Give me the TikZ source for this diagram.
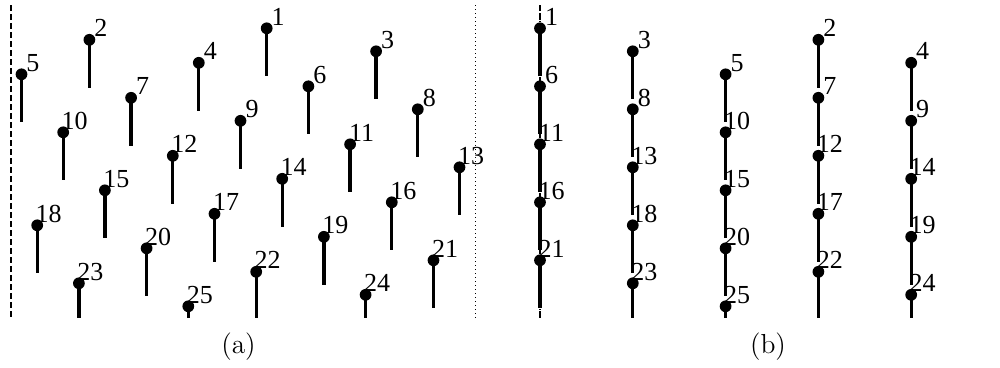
\documentclass[tikz,border=0pt]{standalone}
\usepackage{fontspec}
\newfontfamily\labfont{Liberation Serif}
\begin{document}
\begin{tikzpicture}[x=0.4pt,y=-0.4pt,
  dotnode/.style={circle,fill=black,inner sep=0pt,minimum size=4.7pt},
  stem/.style={line width=1.35pt},
  numlab/.style={font=\labfont\fontsize{10.4}{12}\selectfont,inner sep=0pt,anchor=base},
  caplab/.style={font=\fontsize{11}{13}\selectfont,inner sep=0pt,anchor=base},
  leftwall/.style={line width=0.45pt,dash pattern=on 2.3pt off 1.3pt},
  rightwall/.style={line width=0.45pt,dash pattern=on 0.5pt off 1.1pt}]
\useasboundingbox (0,0) rectangle (1000,367);
% walls of panel (a)
\coordinate (wla) at (11,5);   \coordinate (wlb) at (11,318.3);
\coordinate (wra) at (475.5,5); \coordinate (wrb) at (475.5,318.3);
\draw[leftwall] (wla) -- (wlb);
\draw[rightwall] (wra) -- (wrb);
% walls of panel (b), both on the first column
\coordinate (vla) at (540,5); \coordinate (vlb) at (540,318.3);
\draw[leftwall] (vla) -- (vlb);
\draw[rightwall] (vla) -- (vlb);
\foreach \r in {0,...,4}{
  \foreach \c in {1,...,5}{
    \pgfmathtruncatemacro\n{5*\r+\c}
    \pgfmathsetmacro\yy{28.3+(\c-1)*11.5+\r*58}
    \pgfmathsetmacro\xu{mod(255.7+(\c-1)*286.7+\r*41.7,464)+11}
    \pgfmathtruncatemacro\k{mod((\c-1)*3,5)}
    \pgfmathsetmacro\xb{540+\k*92.8}
    \pgfmathsetmacro\ye{min(\yy+48,318.3)}
    \pgfmathsetmacro\yl{\yy-3}
    \pgfmathsetmacro\xul{\xu+11.5}
    \pgfmathsetmacro\xbl{\xb+11.5}
    % panel (a)
    \coordinate (at\n) at (\xu,\yy);
    \coordinate (ae\n) at (\xu,\ye);
    \draw[stem] (at\n) -- (ae\n);
    \node[dotnode] (a\n) at (at\n) {};
    \node[numlab] (al\n) at (\xul,\yl) {\n};
    % panel (b)
    \coordinate (bt\n) at (\xb,\yy);
    \coordinate (be\n) at (\xb,\ye);
    \draw[stem] (bt\n) -- (be\n);
    \node[dotnode] (b\n) at (bt\n) {};
    \node[numlab] (bl\n) at (\xbl,\yl) {\n};
  }
}
\node[caplab] (capa) at (238.5,353) {(a)};
\node[caplab] (capb) at (768,353) {(b)};
\end{tikzpicture}
\end{document}
